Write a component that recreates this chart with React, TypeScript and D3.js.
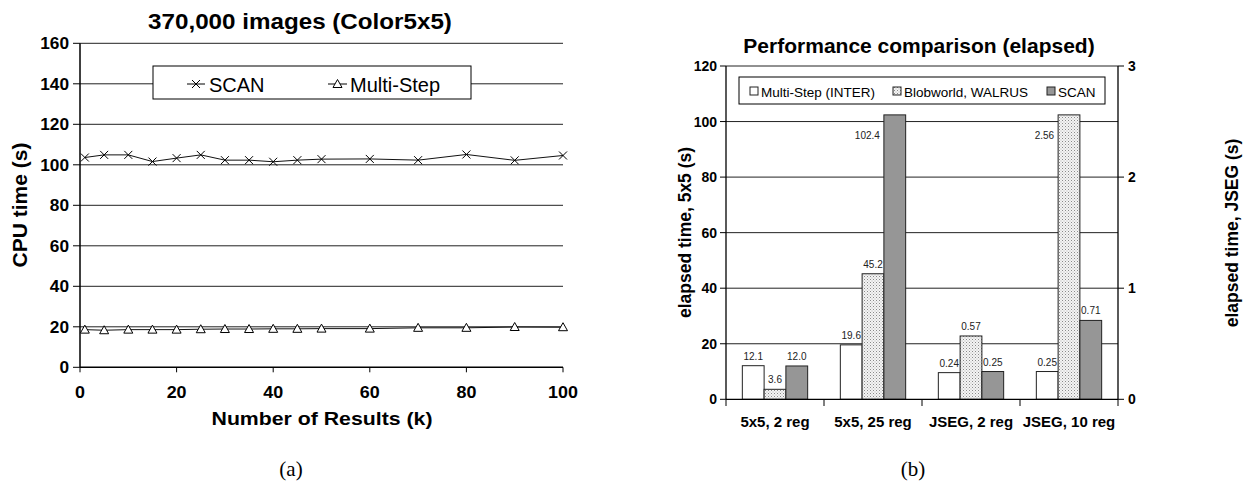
import React from "react";
import * as d3 from "d3";

// ---------- Data: chart (a) ----------
const resultsK = [1, 5, 10, 15, 20, 25, 30, 35, 40, 45, 50, 60, 70, 80, 90, 100];
const scanCpu = [103.6, 104.9, 104.9, 101.6, 103.3, 104.9, 102.3, 102.3, 101.5, 102.3, 102.8, 102.9, 102.3, 105.1, 102.2, 104.6];
const multiStepCpu = [18.6, 18.3, 18.6, 18.6, 18.6, 18.8, 18.9, 18.9, 19.0, 19.0, 19.1, 19.1, 19.5, 19.5, 19.9, 19.8];
const cpuTicks = [0, 20, 40, 60, 80, 100, 120, 140, 160];
const kTicks = [0, 20, 40, 60, 80, 100];

// ---------- Data: chart (b) ----------
const categories = ["5x5, 2 reg", "5x5, 25 reg", "JSEG, 2 reg", "JSEG, 10 reg"];
const categoryAxis = ["left", "left", "right", "right"];
const seriesNames = ["Multi-Step (INTER)", "Blobworld, WALRUS", "SCAN"];
const multiStepElapsed = [12.1, 19.6, 0.24, 0.25];
const blobworldElapsed = [3.6, 45.2, 0.57, 2.56];
const scanElapsed = [12.0, 102.4, 0.25, 0.71];
const leftTicks = [0, 20, 40, 60, 80, 100, 120];
const rightTicks = [0, 1, 2, 3];

const FONT = "'Liberation Sans', Arial, Helvetica, sans-serif";
const SERIF = "'Liberation Serif', 'DejaVu Serif', serif";

function T({ x, y, size, bold = false, anchor = "middle", sx = 1, rot = 0, family = FONT, fill = "#000", children }: any) {
  return (
    <text
      transform={`translate(${x},${y}) rotate(${rot}) scale(${sx},1)`}
      fontSize={size}
      fontWeight={bold ? "bold" : "normal"}
      textAnchor={anchor}
      fontFamily={family}
      fill={fill}
    >
      {children}
    </text>
  );
}

function ChartA() {
  const x = d3.scaleLinear().domain([0, 100]).range([80, 563]);
  const y = d3.scaleLinear().domain([0, 160]).range([367.3, 43.3]);
  const scanPts: [number, number][] = resultsK.map((k, i) => [x(k), y(scanCpu[i])]);
  const msPts: [number, number][] = resultsK.map((k, i) => [x(k), y(multiStepCpu[i])]);
  const line = d3.line();
  const cross = (cx: number, cy: number, key: any) => (
    <path key={key} d={`M${cx - 4},${cy - 4}L${cx + 4},${cy + 4}M${cx - 4},${cy + 4}L${cx + 4},${cy - 4}`} stroke="#000" strokeWidth={1} />
  );
  const tri = (cx: number, cy: number, key: any) => (
    <path key={key} d={`M${cx},${cy - 4.5}L${cx + 4.5},${cy + 3.5}L${cx - 4.5},${cy + 3.5}Z`} fill="#fff" stroke="#000" strokeWidth={1} />
  );
  return (
    <g>
      {cpuTicks.filter((t) => t > 0).map((t) => (
        <line key={t} x1={x(0)} x2={x(100)} y1={y(t)} y2={y(t)} stroke="#222" strokeWidth={1} />
      ))}
      {cpuTicks.map((t) => (
        <g key={"yt" + t}>
          <line x1={x(0) - 7} x2={x(0)} y1={y(t)} y2={y(t)} stroke="#000" strokeWidth={1} />
          <T x={69} y={y(t) + 5.8} size={16} bold anchor="end" sx={1.08}>{t}</T>
        </g>
      ))}
      {kTicks.map((t) => (
        <g key={"xt" + t}>
          <line x1={x(t)} x2={x(t)} y1={y(0)} y2={y(0) + 5} stroke="#000" strokeWidth={1} />
          <T x={x(t)} y={398} size={16} bold sx={1.12}>{t}</T>
        </g>
      ))}
      <line x1={x(0)} x2={x(0)} y1={y(160)} y2={y(0)} stroke="#000" strokeWidth={1.5} />
      <line x1={x(0)} x2={x(100)} y1={y(0)} y2={y(0)} stroke="#000" strokeWidth={1.5} />
      <path d={line(scanPts) || ""} fill="none" stroke="#111" strokeWidth={1} />
      <path d={line(msPts) || ""} fill="none" stroke="#111" strokeWidth={1} />
      {scanPts.map((p, i) => cross(p[0], p[1], "c" + i))}
      {msPts.map((p, i) => tri(p[0], p[1], "t" + i))}
      {/* legend */}
      <rect x={153} y={66} width={318} height={33} fill="#fff" stroke="#000" strokeWidth={1} />
      <line x1={187} x2={205} y1={84} y2={84} stroke="#000" />
      {cross(196, 84, "lc")}
      <T x={209} y={91.5} size={20} anchor="start">SCAN</T>
      <line x1={328} x2={347} y1={84} y2={84} stroke="#000" />
      {tri(337.5, 84, "lt")}
      <T x={350} y={91.5} size={20} anchor="start">Multi-Step</T>
      {/* titles */}
      <T x={300} y={28.5} size={22} bold sx={1.1}>370,000 images (Color5x5)</T>
      <T x={322} y={425} size={19} bold sx={1.12}>Number of Results (k)</T>
      <T x={27} y={205} size={21} bold rot={-90}>CPU time (s)</T>
      <T x={291} y={476} size={21} family={SERIF}>(a)</T>
    </g>
  );
}

function ChartB() {
  const x0 = d3.scaleBand().domain(categories).range([726, 1118]).paddingInner(0).paddingOuter(0);
  const x1 = d3.scaleBand().domain(seriesNames).range([0, x0.bandwidth()]).paddingInner(0).paddingOuter(0.75);
  const yL = d3.scaleLinear().domain([0, 120]).range([399.3, 66]);
  const yR = d3.scaleLinear().domain([0, 3]).range([399.3, 66]);
  const values = [multiStepElapsed, blobworldElapsed, scanElapsed];
  const fills = ["#fff", "url(#dots)", "#969696"];
  const fmtL = d3.format(".1f");
  const fmtR = d3.format(".2f");
  return (
    <g>
      <defs>
        <pattern id="dots" width={3} height={3} patternUnits="userSpaceOnUse">
          <rect width={3} height={3} fill="#f4f4f4" />
          <rect x={0} y={0} width={1} height={1} fill="#8a8a8a" />
          <rect x={1.5} y={1.5} width={1} height={1} fill="#b0b0b0" />
        </pattern>
      </defs>
      {leftTicks.filter((t) => t > 0).map((t) => (
        <line key={t} x1={726} x2={1118} y1={yL(t)} y2={yL(t)} stroke="#222" strokeWidth={1} />
      ))}
      {leftTicks.map((t) => (
        <g key={"l" + t}>
          <line x1={720} x2={726} y1={yL(t)} y2={yL(t)} stroke="#000" />
          <T x={717} y={yL(t) + 5} size={14} bold anchor="end">{t}</T>
        </g>
      ))}
      {rightTicks.map((t) => (
        <g key={"r" + t}>
          <line x1={1118} x2={1124} y1={yR(t)} y2={yR(t)} stroke="#000" />
          <T x={1128} y={yR(t) + 5} size={14} bold anchor="start">{t}</T>
        </g>
      ))}
      {categories.map((c, ci) => {
        const ys = categoryAxis[ci] === "left" ? yL : yR;
        const fmt = categoryAxis[ci] === "left" ? fmtL : fmtR;
        return (
          <g key={c}>
            {seriesNames.map((s, si) => {
              const v = values[si][ci];
              const bx = (x0(c) || 0) + (x1(s) || 0);
              const bw = x1.bandwidth();
              const top = ys(v);
              const high = top < yL(100);
              return (
                <g key={s}>
                  <rect x={bx} y={top} width={bw} height={ys(0) - top} fill={fills[si]} stroke="#222" strokeWidth={1} />
                  {high ? (
                    <T x={bx - 4} y={top + 24} size={10} anchor="end" fill="#222">{fmt(v)}</T>
                  ) : (
                    <T x={bx + bw / 2} y={top - 6} size={10} fill="#222">{fmt(v)}</T>
                  )}
                </g>
              );
            })}
            <T x={(x0(c) || 0) + x0.bandwidth() / 2} y={427} size={15} bold>{c}</T>
          </g>
        );
      })}
      {categories.map((c) => (
        <line key={"tk" + c} x1={x0(c)} x2={x0(c)} y1={399.3} y2={406} stroke="#000" />
      ))}
      <line x1={1118} x2={1118} y1={399.3} y2={406} stroke="#000" />
      <line x1={726} x2={726} y1={66} y2={399.3} stroke="#000" strokeWidth={1.3} />
      <line x1={1118} x2={1118} y1={66} y2={399.3} stroke="#000" strokeWidth={1.3} />
      <line x1={726} x2={1118} y1={399.3} y2={399.3} stroke="#000" strokeWidth={1.3} />
      {/* legend */}
      <rect x={739} y={77} width={366} height={27} fill="#fff" stroke="#000" strokeWidth={1} />
      {seriesNames.map((s, i) => {
        const lx = [750, 893, 1047][i];
        return (
          <g key={"lg" + s}>
            <rect x={lx} y={87} width={8} height={8} fill={fills[i]} stroke="#222" strokeWidth={1} />
            <T x={lx + 11} y={96.5} size={13.5} anchor="start">{s}</T>
          </g>
        );
      })}
      <T x={919} y={53} size={21} bold>Performance comparison (elapsed)</T>
      <T x={690.5} y={232.5} size={17.5} bold rot={-90}>elapsed time, 5x5 (s)</T>
      <T x={1238} y={233} size={17.5} bold rot={-90}>elapsed time, JSEG (s)</T>
      <T x={913} y={476} size={21} family={SERIF}>(b)</T>
    </g>
  );
}

export default function App() {
  return (
    <svg width={1256} height={482} style={{ position: "absolute", left: 0, top: 0, background: "#fff" }}>
      <rect width={1256} height={482} fill="#fff" />
      <ChartA />
      <ChartB />
    </svg>
  );
}
